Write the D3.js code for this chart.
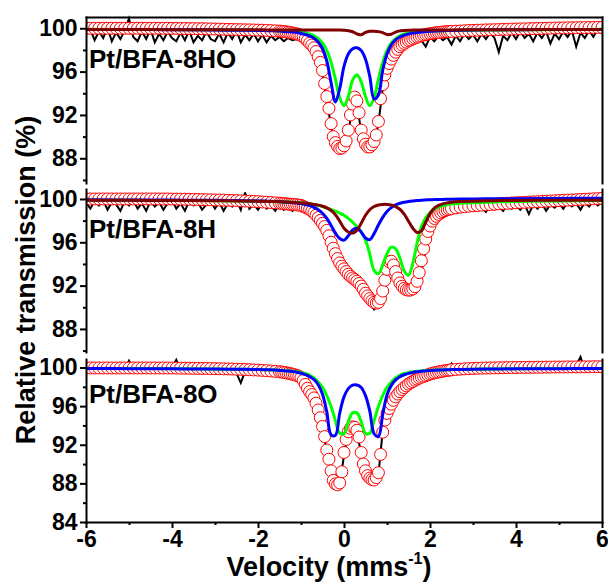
<!DOCTYPE html>
<html>
<head>
<meta charset="utf-8">
<script src="https://cdn.jsdelivr.net/npm/d3@7/dist/d3.min.js"></script>
<style>
  body { margin: 0; background: #fff; }
  svg text { font-family: "Liberation Sans", Arial, sans-serif; font-weight: bold; fill: #000; }
</style>
</head>
<body>
<svg id="chart" width="608" height="582"></svg>
<script>
// Velocity channels (mm/s): fitted envelope, measured spectrum, subspectra
const velData = [...d3.range(-60, -15).map(i => i / 10), ...d3.range(-30, 50).map(i => i / 20), ...d3.range(25, 61).map(i => i / 10)];
const velExp = d3.range(-60, 61).map(i => i / 10);
const velFit = [-6, -5, -4, -3, -2.5, -2, -1.8, -1.6,
  -1.5, -1.4, -1.3, -1.2, -1.1, -1.0, -0.9, -0.8, -0.7, -0.6,
  -0.5, -0.4, -0.3, -0.2, -0.1, 0, 0.1, 0.2, 0.3, 0.4,
  0.5, 0.6, 0.7, 0.8, 0.9, 1.0, 1.1, 1.2, 1.3, 1.4,
  1.5, 1.6, 1.7, 1.8, 1.9, 2.0, 2.1, 2.2, 2.3, 2.4,
  2.5, 2.7, 3, 3.5, 4, 5, 6];

const xTicks = [-6, -4, -2, 0, 2, 4, 6];
const xMinor = [-5, -3, -1, 1, 3, 5];

// ---- Pt/BFA-8HO ----
const fitHO = [100, 100, 100, 100, 100, 100, 100, 100, 100, 100, 100, 100, 100, 100, 100, 100, 100, 100, 100, 100,
  99.99, 99.99, 99.98, 99.98, 99.97, 99.97, 99.96, 99.96, 99.95, 99.94,
  99.93, 99.92, 99.91, 99.90, 99.89, 99.88, 99.87, 99.86, 99.85, 99.84,
  99.83, 99.82, 99.80, 99.78, 99.76,
  99.74, 99.72, 99.70, 99.67, 99.64, 99.60, 99.57, 99.53, 99.48, 99.42,
  99.35, 99.22, 99.05, 98.85, 98.62, 98.45, 98.20, 97.85, 97.38, 96.85,
  96.10, 94.90, 93.70, 92.60, 91.20, 90.00, 89.45, 89.10, 88.90, 88.95,
  89.15, 89.60, 90.60, 92.00, 93.00, 93.65, 93.30, 92.20, 90.60, 89.80,
  89.30, 89.05, 89.05, 89.25, 89.55, 90.15, 91.40, 93.50, 94.80, 95.70,
  96.30, 96.75, 97.15, 97.50, 97.80, 98.05, 98.30, 98.45, 98.60, 98.72,
  98.85, 98.92, 99.02, 99.10, 99.18, 99.25, 99.32, 99.38, 99.42, 99.46,
  99.50, 99.53, 99.56, 99.59, 99.61, 99.63, 99.65, 99.67, 99.68, 99.70,
  99.71, 99.73, 99.75, 99.77, 99.79, 99.80, 99.82, 99.83, 99.85, 99.86,
  99.87, 99.88, 99.90, 99.91, 99.92, 99.93, 99.94, 99.95, 99.96, 99.97,
  99.98, 99.99, 100.00, 100.01, 100.02, 100.03, 100.03, 100.04, 100.05, 100.05,
  100.06, 100.06, 100.07, 100.07, 100.08, 100.08];
const expHO = [99.5, 99.9, 98.9, 99.7, 99.1, 100.1, 98.8, 99.6, 99.0, 99.8,
  100.9, 99.2, 98.8, 99.7, 99.0, 99.9, 98.7, 99.5, 98.9, 99.7,
  99.1, 98.8, 99.6, 98.9, 99.8, 98.7, 99.3, 98.9, 99.7, 99.0,
  98.8, 99.5, 98.7, 99.6, 99.0, 99.8, 98.7, 99.4, 98.9, 99.5,
  98.8, 99.4, 98.7, 99.3, 98.9, 99.2, 98.8, 99.1, 98.9, 99.0,
  99.0, 98.8, 98.4, 97.9, 97.1, 95.8, 93.4, 90.9, 89.2, 88.6,
  88.9, 90.4, 92.8, 93.1, 90.4, 89.0, 88.8, 89.3, 91.2, 94.4,
  96.0, 96.9, 97.5, 98.0, 98.2, 98.6, 98.7, 99.0, 98.9, 98.3,
  99.2, 98.8, 99.3, 98.9, 99.2, 98.5, 99.3, 98.8, 99.5, 99.0,
  99.4, 98.8, 99.5, 99.0, 99.6, 99.1, 97.8, 99.3, 98.9, 99.6,
  99.0, 99.7, 99.1, 99.5, 98.8, 99.6, 99.1, 99.7, 98.6, 99.5,
  99.0, 99.7, 99.2, 99.8, 98.3, 99.6, 99.1, 99.8, 99.2, 99.9,
  99.5];
const blueHO = [99.89, 99.88, 99.87, 99.84, 99.82, 99.80, 99.78, 99.76,
  99.75, 99.71, 99.68, 99.65, 99.60, 99.52, 99.43, 99.29, 99.08, 98.74,
  98.13, 96.99, 94.98, 93.19, 94.42, 96.48, 97.62, 98.11, 98.20, 97.94,
  97.14, 95.54, 93.47, 93.84, 96.13, 97.62, 98.48, 98.93, 99.19, 99.36,
  99.48, 99.56, 99.61, 99.66, 99.69, 99.72, 99.74, 99.76, 99.78, 99.79,
  99.80, 99.82, 99.84, 99.86, 99.87, 99.88, 99.89];
const greenHO = [99.90, 99.89, 99.88, 99.86, 99.84, 99.81, 99.79, 99.77,
  99.75, 99.74, 99.72, 99.70, 99.67, 99.64, 99.57, 99.48, 99.30, 99.05,
  98.65, 97.95, 96.85, 95.30, 93.60, 92.85, 93.70, 95.20, 95.70, 95.05,
  93.70, 92.85, 93.60, 95.30, 96.85, 97.95, 98.65, 99.05, 99.30, 99.48,
  99.57, 99.64, 99.67, 99.70, 99.72, 99.74, 99.75, 99.76, 99.77, 99.78,
  99.79, 99.80, 99.82, 99.84, 99.86, 99.88, 99.90];
const brownHO = [99.88, 99.88, 99.87, 99.87, 99.86, 99.86, 99.85, 99.85,
  99.85, 99.85, 99.85, 99.85, 99.85, 99.85, 99.85, 99.85, 99.85, 99.85,
  99.85, 99.85, 99.85, 99.84, 99.83, 99.81, 99.77, 99.68, 99.48, 99.40,
  99.62, 99.72, 99.73, 99.69, 99.60, 99.42, 99.45, 99.65, 99.76, 99.80,
  99.82, 99.83, 99.84, 99.84, 99.85, 99.85, 99.85, 99.85, 99.85, 99.85,
  99.85, 99.86, 99.86, 99.87, 99.87, 99.88, 99.88];

// ---- Pt/BFA-8H ----
const fitH = [100, 100, 100, 100, 100, 100, 100, 100, 100, 100, 100, 100, 100, 100, 100, 100, 100, 100, 100, 100,
  99.99, 99.99, 99.98, 99.98, 99.97, 99.96, 99.95, 99.94, 99.93, 99.92,
  99.91, 99.90, 99.89, 99.88, 99.86, 99.85, 99.83, 99.81, 99.79, 99.77,
  99.75, 99.72, 99.70, 99.67, 99.64,
  99.61, 99.59, 99.57, 99.55, 99.53, 99.51, 99.50, 99.48, 99.46, 99.43,
  99.40, 99.32, 99.23, 99.13, 99.02, 98.88, 98.72, 98.50, 98.28, 98.02,
  97.75, 97.45, 97.10, 96.60, 96.00, 95.45, 94.95, 94.50, 94.10, 93.80,
  93.55, 93.30, 93.05, 92.85, 92.70, 92.55, 92.40, 92.20, 91.95, 91.65,
  91.30, 91.05, 90.80, 90.60, 90.45, 90.38, 90.45, 90.80, 91.50, 92.50,
  93.50, 94.20, 94.25, 93.90, 93.30, 92.70, 92.25, 91.95, 91.75, 91.62,
  91.58, 91.60, 91.70, 91.90, 92.40, 93.20, 94.30, 95.40, 96.30, 97.00,
  97.50, 97.95, 98.20, 98.40, 98.57, 98.72, 98.83, 98.92, 99.00, 99.06,
  99.11, 99.18, 99.24, 99.29, 99.33, 99.37, 99.40, 99.43, 99.46, 99.49,
  99.52, 99.55, 99.58, 99.60, 99.63, 99.65, 99.67, 99.69, 99.71, 99.73,
  99.75, 99.77, 99.79, 99.81, 99.83, 99.85, 99.87, 99.89, 99.91, 99.93,
  99.95, 99.97, 99.99, 100.01, 100.03, 100.05];
const expH = [99.7, 99.1, 99.8, 99.4, 99.9, 99.0, 99.7, 99.5, 98.9, 99.8,
  99.4, 99.9, 99.1, 99.6, 98.9, 99.8, 99.3, 99.7, 99.0, 99.6,
  99.9, 99.1, 99.6, 98.9, 99.8, 99.4, 99.7, 99.0, 99.5, 99.8,
  99.1, 99.7, 98.9, 99.6, 99.3, 99.9, 99.0, 100.6, 99.1, 99.5,
  99.0, 99.6, 99.1, 99.4, 98.9, 99.5, 99.0, 99.3, 98.9, 99.2,
  99.0, 98.8, 98.6, 98.4, 98.0, 97.5, 96.9, 95.6, 94.7, 93.8,
  93.3, 92.8, 92.5, 92.1, 91.7, 91.0, 90.4, 89.8, 90.2, 91.3,
  93.2, 93.8, 93.0, 91.9, 91.4, 91.2, 91.3, 91.8, 93.2, 95.4,
  97.0, 97.9, 98.3, 98.6, 98.8, 98.9, 99.0, 98.9, 99.2, 98.9,
  99.3, 99.0, 99.2, 98.8, 99.4, 99.0, 99.3, 98.9, 99.5, 99.1,
  99.4, 99.0, 99.5, 98.6, 99.5, 99.1, 99.6, 98.9, 99.5, 99.2,
  99.6, 99.1, 99.7, 99.3, 99.6, 99.0, 99.7, 99.3, 99.8, 99.4,
  99.7];
const blueH = [99.92, 99.91, 99.90, 99.87, 99.85, 99.82, 99.80, 99.77,
  99.75, 99.73, 99.70, 99.66, 99.62, 99.57, 99.49, 99.38, 99.22, 99.00,
  98.68, 98.20, 97.55, 96.85, 96.35, 96.20, 96.60, 97.15, 97.30, 96.95,
  96.40, 96.25, 96.80, 97.60, 98.30, 98.85, 99.20, 99.45, 99.60, 99.70,
  99.77, 99.82, 99.86, 99.89, 99.91, 99.93, 99.94, 99.95, 99.96, 99.97,
  99.98, 99.99, 100.00, 100.02, 100.03, 100.05, 100.06];
const greenH = [99.88, 99.87, 99.86, 99.83, 99.81, 99.78, 99.77, 99.75,
  99.74, 99.73, 99.71, 99.70, 99.68, 99.65, 99.60, 99.55, 99.48, 99.40,
  99.30, 99.15, 99.02, 98.88, 98.70, 98.50, 98.20, 97.85, 97.45, 96.95,
  96.20, 94.90, 93.40, 93.10, 93.90, 94.95, 95.55, 95.40, 94.55, 93.35,
  92.95, 94.05, 95.95, 97.45, 98.25, 98.75, 99.05, 99.25, 99.38, 99.47,
  99.54, 99.60, 99.66, 99.72, 99.76, 99.82, 99.85];
const brownH = [99.88, 99.87, 99.86, 99.84, 99.82, 99.80, 99.78, 99.76,
  99.75, 99.73, 99.71, 99.69, 99.66, 99.63, 99.60, 99.56, 99.50, 99.43,
  99.33, 99.17, 98.93, 98.55, 97.95, 97.30, 96.95, 96.85, 97.10, 97.75,
  98.50, 99.00, 99.30, 99.45, 99.50, 99.50, 99.45, 99.30, 99.05, 98.60,
  97.95, 97.30, 96.90, 97.05, 97.85, 98.65, 99.15, 99.40, 99.55, 99.64,
  99.70, 99.76, 99.80, 99.84, 99.86, 99.88, 99.89];

// ---- Pt/BFA-8O ----
const fitO = [99.95, 99.95, 99.95, 99.95, 99.95, 99.95, 99.95, 99.95, 99.95, 99.95,
  99.95, 99.95, 99.95, 99.95, 99.95, 99.95, 99.95, 99.95, 99.95, 99.95,
  99.94, 99.94, 99.93, 99.93, 99.92, 99.92, 99.91, 99.90, 99.90, 99.89,
  99.88, 99.87, 99.86, 99.85, 99.84, 99.82, 99.81, 99.79, 99.77, 99.75,
  99.73, 99.70, 99.67, 99.64, 99.60,
  99.56, 99.53, 99.49, 99.45, 99.41, 99.36, 99.31, 99.25, 99.18, 99.10,
  98.95, 98.65, 98.25, 97.85, 97.50, 97.20, 96.85, 96.30, 95.60, 94.80,
  93.90, 92.85, 91.45, 90.50, 89.30, 88.30, 87.95, 87.85, 88.05, 89.20,
  91.20, 92.55, 93.35, 93.70, 93.85, 93.80, 93.50, 92.80, 91.20, 90.00,
  89.30, 88.80, 88.55, 88.40, 88.35, 88.60, 89.10, 91.00, 93.30, 94.55,
  95.25, 95.75, 96.20, 96.60, 96.95, 97.25, 97.50, 97.72, 97.92, 98.10,
  98.28, 98.42, 98.55, 98.68, 98.80, 98.90, 99.00, 99.08, 99.16, 99.24,
  99.32, 99.38, 99.44, 99.50, 99.54, 99.58, 99.62, 99.66, 99.70, 99.73,
  99.76, 99.80, 99.83, 99.86, 99.88, 99.90, 99.92, 99.93, 99.94, 99.95,
  99.96, 99.97, 99.98, 99.99, 100.00, 100.00, 100.01, 100.01, 100.02, 100.02,
  100.03, 100.03, 100.04, 100.04, 100.05, 100.05, 100.05, 100.06, 100.06, 100.06,
  100.07, 100.07, 100.07, 100.08, 100.08, 100.08];
const expO = [99.9, 99.6, 100.1, 99.7, 100.0, 99.5, 99.9, 99.7, 100.2, 99.8,
  100.7, 99.8, 99.6, 100.0, 99.7, 99.9, 99.5, 100.1, 99.8, 99.6,
  100.0, 100.8, 99.7, 99.9, 99.5, 100.0, 99.7, 99.8, 99.5, 99.9,
  99.6, 99.8, 99.5, 99.7, 99.9, 99.4, 98.4, 99.6, 99.4, 99.7,
  99.4, 99.6, 99.3, 99.5, 99.2, 99.4, 99.1, 99.3, 99.2, 99.0,
  98.8, 98.3, 97.6, 96.8, 95.5, 93.8, 91.3, 89.2, 87.9, 87.9,
  90.9, 93.3, 93.8, 93.4, 91.0, 89.2, 88.4, 88.2, 88.9, 93.4,
  95.1, 96.1, 96.9, 97.4, 97.8, 98.2, 98.5, 98.9, 99.0, 99.2,
  99.3, 99.5, 99.4, 99.6, 99.8, 100.4, 99.7, 99.8, 99.6, 99.9,
  99.7, 100.0, 99.8, 99.6, 99.9, 99.7, 100.0, 99.8, 99.6, 99.9,
  99.8, 100.0, 99.7, 99.9, 100.1, 99.8, 99.6, 100.0, 99.8, 100.1,
  99.9, 99.7, 100.0, 99.8, 100.2, 101.1, 99.7, 99.9, 99.6, 100.0,
  99.9];
const blueO = [99.89, 99.88, 99.86, 99.84, 99.82, 99.79, 99.77, 99.74,
  99.70, 99.67, 99.63, 99.58, 99.51, 99.41, 99.27, 99.07, 98.76, 98.21,
  97.22, 95.40, 93.02, 92.97, 95.26, 96.96, 97.81, 98.17, 98.18, 97.93,
  97.09, 95.48, 93.14, 92.85, 95.12, 97.15, 98.15, 98.72, 99.05, 99.25,
  99.39, 99.49, 99.56, 99.62, 99.65, 99.69, 99.72, 99.74, 99.75, 99.77,
  99.78, 99.80, 99.82, 99.85, 99.86, 99.88, 99.89];
const greenO = [99.90, 99.89, 99.88, 99.85, 99.82, 99.78, 99.76, 99.73,
  99.71, 99.68, 99.64, 99.60, 99.55, 99.48, 99.38, 99.20, 98.92, 98.50,
  97.95, 97.10, 95.95, 94.50, 93.20, 93.15, 94.40, 95.30, 95.30, 94.40,
  93.15, 93.20, 94.50, 95.95, 97.10, 97.95, 98.50, 98.92, 99.20, 99.38,
  99.48, 99.55, 99.60, 99.64, 99.68, 99.71, 99.73, 99.75, 99.76, 99.77,
  99.78, 99.80, 99.82, 99.85, 99.87, 99.89, 99.90];

// Layout of the three stacked panels
const plotLeft = 86;
const plotRight = 602;
const panels = [
  { label: 'Pt/BFA-8HO', top: 17, bottom: 183, yMin: 85.72, yMax: 101.04,
    ticks: [88, 92, 96, 100], minor: [86, 90, 94, 98], labelY: 68,
    fit: fitHO, exp: expHO, parts: [greenHO, blueHO, brownHO] },
  { label: 'Pt/BFA-8H', top: 189, bottom: 352, yMin: 85.87, yMax: 100.92,
    ticks: [88, 92, 96, 100], minor: [86, 90, 94, 98], labelY: 238,
    fit: fitH, exp: expH, parts: [greenH, blueH, brownH] },
  { label: 'Pt/BFA-8O', top: 359, bottom: 522, yMin: 84, yMax: 100.88,
    ticks: [84, 88, 92, 96, 100], minor: [86, 90, 94, 98], labelY: 403,
    fit: fitO, exp: expO, parts: [greenO, blueO] }
];
const partColors = ['#00ff00', '#0000ff', '#800000'];

const svg = d3.select('#chart');
const x = d3.scaleLinear().domain([-6, 6]).range([plotLeft, plotRight]);

function styleAxis(sel, fontSize) {
  sel.attr('font-family', null).attr('font-size', fontSize);
  sel.select('.domain').attr('stroke-width', 2).attr('stroke-linecap', 'square');
  sel.selectAll('.tick line').attr('stroke-width', 2);
  sel.selectAll('.tick text').style('font-weight', 'bold').style('font-size', fontSize + 'px');
}

panels.forEach((p, i) => {
  const y = d3.scaleLinear().domain([p.yMin, p.yMax]).range([p.bottom, p.top]);
  const g = svg.append('g').attr('class', 'panel');

  svg.append('clipPath').attr('id', 'clip' + i)
    .append('rect')
    .attr('x', plotLeft).attr('y', p.top - 12)
    .attr('width', plotRight - plotLeft).attr('height', p.bottom - p.top + 12);

  const plot = g.append('g').attr('clip-path', `url(#clip${i})`);

  // measured spectrum
  plot.append('path')
    .datum(d3.zip(velExp, p.exp))
    .attr('fill', 'none')
    .attr('stroke', '#000')
    .attr('stroke-width', 2)
    .attr('d', d3.line().x(d => x(d[0])).y(d => y(d[1])));

  // total fit as open circles
  plot.append('g')
    .selectAll('circle')
    .data(d3.zip(velData, p.fit))
    .join('circle')
    .attr('cx', d => x(d[0]))
    .attr('cy', d => y(d[1]))
    .attr('r', 6)
    .attr('fill', '#fff')
    .attr('stroke', '#ff0000')
    .attr('stroke-width', 1);

  // subspectra
  const smooth = d3.line()
    .x(d => x(d[0]))
    .y(d => y(d[1]))
    .curve(d3.curveCatmullRom.alpha(0.5));
  p.parts.forEach((vals, k) => {
    plot.append('path')
      .datum(d3.zip(velFit, vals))
      .attr('fill', 'none')
      .attr('stroke', partColors[k])
      .attr('stroke-width', 3)
      .attr('d', smooth);
  });

  // left axis with major and minor ticks
  g.append('g')
    .attr('transform', `translate(${plotLeft},0)`)
    .call(d3.axisLeft(y).tickValues(p.ticks).tickSize(6).tickSizeOuter(0).tickPadding(2.5).tickFormat(d3.format('d')))
    .call(s => styleAxis(s, 23));
  g.append('g')
    .attr('transform', `translate(${plotLeft},0)`)
    .call(d3.axisLeft(y).tickValues(p.minor).tickSize(3).tickFormat(''))
    .call(s => { s.select('.domain').remove(); s.selectAll('.tick text').remove(); s.selectAll('.tick line').attr('stroke-width', 2); });

  // right frame
  g.append('g')
    .attr('transform', `translate(${plotRight},0)`)
    .call(d3.axisRight(y).tickValues([]).tickSizeOuter(0))
    .call(s => styleAxis(s, 10));

  if (i === 0) {
    g.append('g')
      .attr('transform', `translate(0,${p.top})`)
      .call(d3.axisTop(x).tickValues([]).tickSizeOuter(0))
      .call(s => styleAxis(s, 10));
  }

  if (i === panels.length - 1) {
    g.append('g')
      .attr('transform', `translate(0,${p.bottom})`)
      .call(d3.axisBottom(x).tickValues(xTicks).tickSize(6).tickSizeOuter(0).tickPadding(3).tickFormat(d => String(d)))
      .call(s => styleAxis(s, 23));
    g.append('g')
      .attr('transform', `translate(0,${p.bottom})`)
      .call(d3.axisBottom(x).tickValues(xMinor).tickSize(3).tickFormat(''))
      .call(s => { s.select('.domain').remove(); s.selectAll('.tick text').remove(); s.selectAll('.tick line').attr('stroke-width', 2); });
  }

  // sample label
  g.append('text')
    .attr('x', 89)
    .attr('y', p.labelY)
    .attr('font-size', 26)
    .text(p.label);
});

// axis titles
svg.append('text')
  .attr('transform', 'translate(35,280) rotate(-90)')
  .attr('text-anchor', 'middle')
  .attr('font-size', 27)
  .text('Relative transmission (%)');

const xTitle = svg.append('text')
  .attr('x', 329)
  .attr('y', 576)
  .attr('text-anchor', 'middle')
  .attr('font-size', 27);
xTitle.append('tspan').text('Velocity (mms');
xTitle.append('tspan').attr('font-size', 16).attr('dy', -12).text('-1');
xTitle.append('tspan').attr('dy', 12).text(')');
</script>
</body>
</html>
